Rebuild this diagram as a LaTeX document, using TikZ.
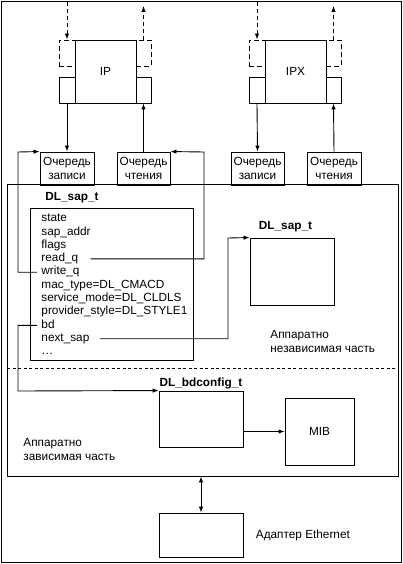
\documentclass[tikz,border=0pt]{standalone}
\usepackage{fontspec}
\setmainfont{Liberation Sans}
\usetikzlibrary{positioning,arrows.meta}

\tikzset{
  blk/.style 2 args={draw, minimum width=#1, minimum height=#2, inner sep=0pt},
  dblk/.style 2 args={blk={#1}{#2}, dash pattern=on 5pt off 3pt},
  fld/.style={anchor=west, inner sep=0pt, text height=8pt, text depth=2.5pt},
  ttl/.style={font=\fontsize{11.8}{13.3}\selectfont\bfseries, inner sep=0pt},
  txt/.style={anchor=west, align=left, inner sep=0pt},
  lnk/.style={->},
  dlnk/.style={->, dash pattern=on 4pt off 3pt}
}

\begin{document}
\begin{tikzpicture}[x=1pt,y=-1pt,line width=0.9pt,>={Latex[length=6pt,width=4.5pt]},
    font=\fontsize{11.8}{13.3}\selectfont]

    \useasboundingbox (0,0) rectangle (403,564);
    \draw (1,1) rectangle (401,562);

    \node[blk={61pt}{63pt}] (ip) at (105.5,71.5) {IP};
    \node[dblk={16pt}{26pt}] (ipinL) at (67,53) {};
    \node[dblk={15pt}{26pt}] (ipoutR) at (143.5,53) {};
    \node[blk={16pt}{26pt}] (ipL) at (67,90) {};
    \node[blk={15pt}{26pt}] (ipR) at (143.5,90) {};

    \node[blk={61pt}{63pt}] (ipx) at (295.5,71.5) {IPX};
    \node[dblk={16pt}{26pt}] (ipxinL) at (257,53) {};
    \node[dblk={15pt}{26pt}] (ipxoutR) at (333.5,53) {};
    \node[blk={16pt}{26pt}] (ipxL) at (257,90) {};
    \node[blk={15pt}{26pt}] (ipxR) at (333.5,90) {};

    \coordinate (ipin) at (67,2);
    \coordinate (ipout) at (143.5,6);
    \coordinate (ipxin) at (257,2);
    \coordinate (ipxout) at (333.5,6);
    \draw[dlnk] (ipin) -- (ipinL.north);
    \draw[dlnk] (ipoutR.north) -- (ipout);
    \draw[dlnk] (ipxin) -- (ipxinL.north);
    \draw[dlnk] (ipxoutR.north) -- (ipxout);

    \node[blk={54pt}{33pt}, align=center] (qwIP) at (67,168.5) {Очередь\\записи};
    \node[blk={53pt}{33pt}, align=center] (qrIP) at (143.5,168.5) {Очередь\\чтения};
    \node[blk={53pt}{33pt}, align=center] (qwIPX) at (257.5,168.5) {Очередь\\записи};
    \node[blk={54pt}{33pt}, align=center] (qrIPX) at (334,168.5) {Очередь\\чтения};

    \draw[lnk] (ipL.south) -- (qwIP.north);
    \draw[lnk] (qrIP.north) -- (ipR.south);
    \draw[lnk] (ipxL.south) -- (qwIPX.north);
    \draw[lnk] (qrIPX.north) -- (ipxR.south);

    \node[blk={391pt}{292pt}] (drv) at (202.5,330) {};
    \draw[line width=0.5pt, dash pattern=on 3pt off 2.5pt] (7,368) -- (398,368);

    \node[blk={163pt}{152pt}] (sap) at (111.5,284) {};
    \node[ttl, anchor=west] (saptl) at (45,198) {DL\_sap\_t};
    \foreach \f [count=\i] in {state, sap\_addr, flags, read\_q, write\_q,
        mac\_type=DL\_CMACD, service\_mode=DL\_CLDLS, provider\_style=DL\_STYLE1,
        bd, next\_sap, {\ldots}}
      \node[fld] (f\i) at (41,205.7+13.3*\i) {\f};

    \coordinate (wqbend) at (18,152);
    \coordinate (rqbend) at (204,152);
    \draw[lnk] ([xshift=-4pt]f5.west) -| (wqbend) -- (qwIP.north west);
    \draw[lnk] ([xshift=12pt]f4.east) -| (rqbend) -- (qrIP.north east);

    \node[blk={84pt}{67pt}] (sapnext) at (292,271.5) {};
    \node[ttl] (sapnexttl) at (285.5,227) {DL\_sap\_t};
    \coordinate (nsbend) at (228,238);
    \draw[lnk] ([xshift=10pt]f10.east) -| (nsbend) -- (sapnext.north west);
    \node[txt] (hwind) at (270,341.5) {Аппаратно\\независимая часть};

    \node[blk={84pt}{56pt}] (bdcfg) at (201,419) {};
    \node[ttl] (bdcfgtl) at (201,383) {DL\_bdconfig\_t};
    \coordinate (bdbend) at (18,391);
    \draw[lnk] ([xshift=-4pt]f9.west) -| (bdbend) -- (bdcfg.north west);

    \node[blk={69pt}{67pt}] (mib) at (319.5,431.5) {MIB};
    \draw[lnk] (bdcfg.east |- mib.west) -- (mib.west);
    \node[txt] (hwdep) at (23,449.5) {Аппаратно\\зависимая часть};

    \node[blk={84pt}{44pt}] (eth) at (201,535) {};
    \node[right=12pt of eth, inner sep=0pt] (ethtl) {Адаптер Ethernet};
    \draw[<->] (eth.north |- drv.south) -- (eth.north);
\end{tikzpicture}
\end{document}
